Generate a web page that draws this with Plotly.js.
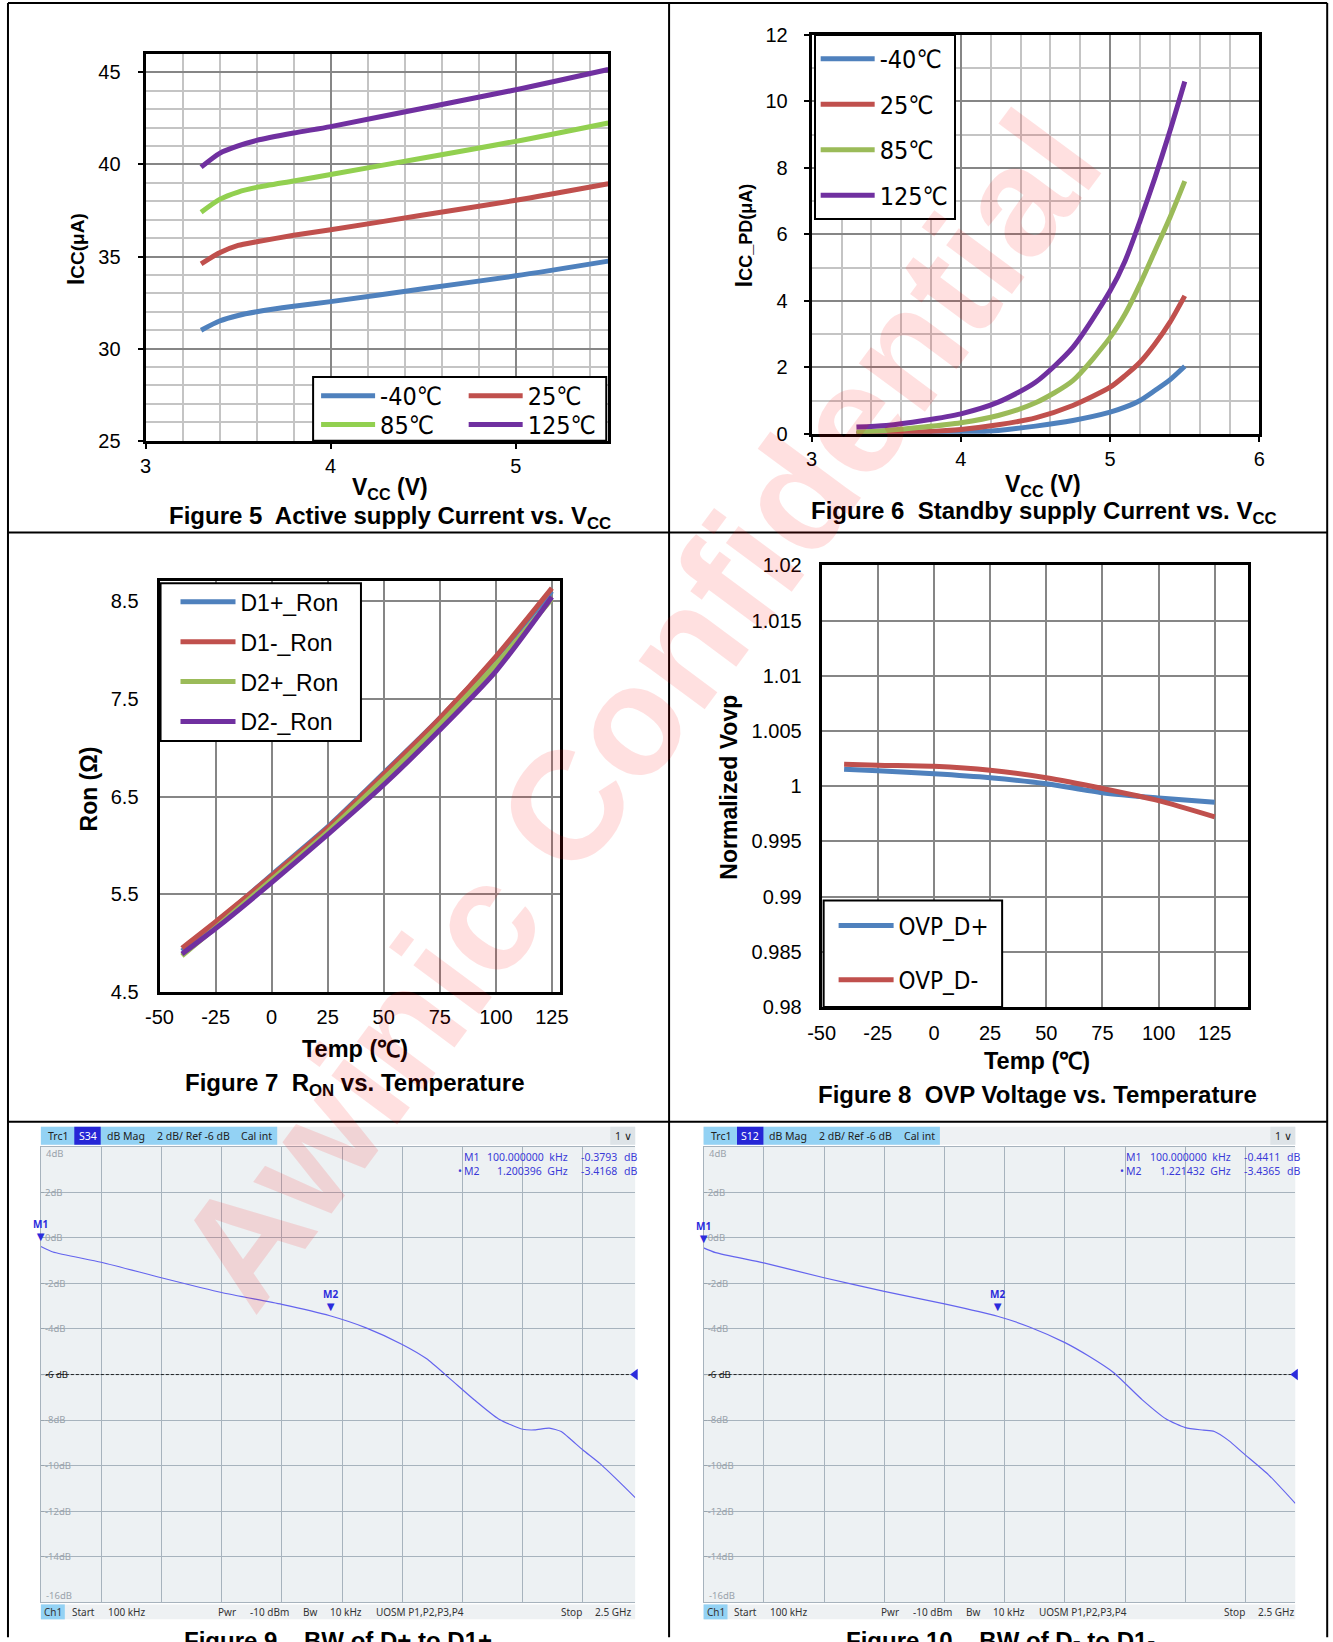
<!DOCTYPE html>
<html><head><meta charset="utf-8">
<script src="https://cdn.plot.ly/plotly-3.0.1.min.js"></script>
<style>html,body{margin:0;padding:0;background:#fff;}#chart{width:1333px;height:1642px;}</style>
</head><body><div id="chart"></div>
<script>
// ---------- Figure 5: Active supply current vs Vcc ----------
const fig5Vcc = [3.3, 3.4, 3.5, 3.6, 3.8, 4.0, 4.5, 5.0, 5.5];
const fig5IccM40 = [31.0, 31.5, 31.8, 32.0, 32.3, 32.55, 33.25, 33.95, 34.75];
const fig5Icc25 = [34.6, 35.2, 35.6, 35.8, 36.15, 36.45, 37.25, 38.05, 38.95];
const fig5Icc85 = [37.4, 38.1, 38.5, 38.75, 39.1, 39.45, 40.35, 41.25, 42.25];
const fig5Icc125 = [39.85, 40.6, 41.0, 41.3, 41.7, 42.05, 43.05, 44.05, 45.15];
const tempNames = ['-40℃', '25℃', '85℃', '125℃'];

// ---------- Figure 6: Standby supply current vs Vcc ----------
const fig6Vcc = [3.3, 3.5, 3.75, 4.0, 4.25, 4.5, 4.75, 5.0, 5.1, 5.2, 5.3, 5.4, 5.5];
const fig6IccM40 = [0, 0, 0.01, 0.03, 0.1, 0.23, 0.4, 0.65, 0.8, 1.0, 1.3, 1.62, 2.03];
const fig6Icc25 = [0, 0.02, 0.06, 0.13, 0.27, 0.48, 0.85, 1.4, 1.75, 2.15, 2.7, 3.35, 4.15];
const fig6Icc85 = [0.05, 0.1, 0.2, 0.33, 0.55, 0.93, 1.6, 2.9, 3.6, 4.5, 5.5, 6.5, 7.6];
const fig6Icc125 = [0.2, 0.25, 0.4, 0.6, 0.95, 1.55, 2.6, 4.3, 5.2, 6.4, 7.7, 9.1, 10.6];

// ---------- Figure 7: Ron vs temperature ----------
const fig7Temp = [-40, -25, 0, 25, 50, 75, 100, 125];
const fig7D1p = [4.92, 5.20, 5.70, 6.19, 6.74, 7.30, 7.92, 8.60];
const fig7D1m = [4.95, 5.22, 5.69, 6.18, 6.73, 7.30, 7.93, 8.63];
const fig7D2p = [4.87, 5.16, 5.65, 6.14, 6.68, 7.24, 7.85, 8.52];
const fig7D2m = [4.89, 5.15, 5.62, 6.11, 6.62, 7.18, 7.78, 8.54];
const fig7Names = ['D1+_Ron', 'D1-_Ron', 'D2+_Ron', 'D2-_Ron'];
const fig7TickVals = [4.5, 5.5, 6.5, 7.5, 8.5];
const fig7TickText = ['4.5', '5.5', '6.5', '7.5', '8.5'];

// ---------- Figure 8: OVP voltage vs temperature ----------
const fig8Temp = [-40, -25, 0, 25, 50, 75, 100, 125];
const fig8Dp = [1.00155, 1.0014, 1.00113, 1.00077, 1.00023, 0.99942, 0.99894, 0.99855];
const fig8Dm = [1.0020, 1.0019, 1.0018, 1.00145, 1.00077, 0.9998, 0.9987, 0.99723];
const fig8Names = ['OVP_D+', 'OVP_D-'];
const fig8TickVals = [0.98, 0.985, 0.99, 0.995, 1.0, 1.005, 1.01, 1.015, 1.02];
const fig8TickText = ['0.98', '0.985', '0.99', '0.995', '1', '1.005', '1.01', '1.015', '1.02'];

const tempTickVals = [-50, -25, 0, 25, 50, 75, 100, 125];
const tempTickText = ['-50', '-25', '0', '25', '50', '75', '100', '125'];

// ---------- Figures 9/10: bandwidth (VNA screenshots) ----------
const fig9Freq = [0.0001, 0.05, 0.25, 0.5, 0.75, 1.0, 1.2, 1.35, 1.5, 1.6, 1.7, 1.8, 1.9, 2.0, 2.05, 2.11, 2.16, 2.2, 2.25, 2.32, 2.4, 2.467];
const fig9Db = [-0.38, -0.62, -1.07, -1.75, -2.4, -2.92, -3.42, -3.95, -4.68, -5.3, -6.2, -7.12, -7.95, -8.4, -8.43, -8.35, -8.5, -8.85, -9.31, -9.9, -10.7, -11.4];
const fig10Freq = [0.0001, 0.05, 0.25, 0.5, 0.75, 1.0, 1.22, 1.35, 1.5, 1.6, 1.7, 1.82, 1.92, 2.0, 2.075, 2.12, 2.18, 2.24, 2.345, 2.456];
const fig10Db = [-0.44, -0.65, -1.1, -1.75, -2.35, -2.9, -3.44, -3.9, -4.6, -5.2, -5.9, -7.1, -7.95, -8.33, -8.44, -8.5, -8.9, -9.45, -10.4, -11.65];
const fig9Markers = {name: ['M1', 'M2'], freq: [0.0001, 1.200396], freqText: ['100.000000  kHz', '1.200396  GHz'], val: [-0.3793, -3.4168]};
const fig10Markers = {name: ['M1', 'M2'], freq: [0.0001, 1.221432], freqText: ['100.000000  kHz', '1.221432  GHz'], val: [-0.4411, -3.4365]};
const vnaRefLevel = -6;
const vnaTickVals = [-14, -12, -10, -8, -6, -4, -2, 0, 2];
const vnaTickText = ['-14dB', '-12dB', '-10dB', '-8dB', '<span style="color:#222">-6 dB</span>', '-4dB', '-2dB', '0dB', '2dB'];
const fig9Param = 'S34';
const fig10Param = 'S12';
const vnaStatus = [['Start', 29], ['100 kHz', 65], ['Pwr', 176], ['-10 dBm', 208], ['Bw', 261], ['10 kHz', 288], ['UOSM P1,P2,P3,P4', 334], ['Stop', 520], ['2.5 GHz', 554]];

// ---------- layout helpers ----------
const W = 1333, H = 1642, K = 0.99714;
const X = v => v * K / W, Y = v => 1 - v * K / H;
const dx = (a, b) => [X(a), X(b)];
const dy = (a, b) => [Y(b), Y(a)];
const arial = 'Liberation Sans, Arial, sans-serif';
const narrow = 'Liberation Sans Narrow, DejaVu Sans Condensed, Roboto, sans-serif';
const ui = 'Noto Sans, Open Sans, sans-serif';
const C = {blue: '#4F81BD', red: '#C0504D', lime: '#92D050', green: '#9BBB59', purple: '#7030A0'};
const tickFont = {family: arial, size: 20, color: '#000'};

let gid = 0;
function line(x, y, xa, ya, color, name, legend) {
  gid++;
  return {x: x, y: y, xaxis: xa, yaxis: ya, type: 'scatter', mode: 'lines', name: name, legendgroup: 'g' + gid,
    line: {color: color, width: 5, shape: 'spline', smoothing: 0.7}, legend: legend};
}

const traces = [
  line(fig5Vcc, fig5IccM40, 'x', 'y', C.blue, tempNames[0], 'legend'),
  line(fig5Vcc, fig5Icc25, 'x', 'y', C.red, tempNames[1], 'legend2'),
  line(fig5Vcc, fig5Icc85, 'x', 'y', C.lime, tempNames[2], 'legend3'),
  line(fig5Vcc, fig5Icc125, 'x', 'y', C.purple, tempNames[3], 'legend4'),
  line(fig6Vcc, fig6IccM40, 'x2', 'y2', C.blue, tempNames[0], 'legend5'),
  line(fig6Vcc, fig6Icc25, 'x2', 'y2', C.red, tempNames[1], 'legend5'),
  line(fig6Vcc, fig6Icc85, 'x2', 'y2', C.green, tempNames[2], 'legend5'),
  line(fig6Vcc, fig6Icc125, 'x2', 'y2', C.purple, tempNames[3], 'legend5'),
  line(fig7Temp, fig7D1p, 'x3', 'y3', C.blue, fig7Names[0], 'legend6'),
  line(fig7Temp, fig7D1m, 'x3', 'y3', C.red, fig7Names[1], 'legend6'),
  line(fig7Temp, fig7D2p, 'x3', 'y3', C.green, fig7Names[2], 'legend6'),
  line(fig7Temp, fig7D2m, 'x3', 'y3', C.purple, fig7Names[3], 'legend6'),
  line(fig8Temp, fig8Dp, 'x4', 'y4', C.blue, fig8Names[0], 'legend7'),
  line(fig8Temp, fig8Dm, 'x4', 'y4', C.red, fig8Names[1], 'legend7')
];

function vnaTraces(freq, db, xa, ya, xEnd) {
  return [
    {x: [freq[0], xEnd], y: [vnaRefLevel, vnaRefLevel], xaxis: xa, yaxis: ya, mode: 'lines', showlegend: false,
      line: {color: '#222', width: 1, dash: '3px,2px'}},
    {x: freq, y: db, xaxis: xa, yaxis: ya, mode: 'lines', showlegend: false,
      line: {color: '#6464ee', width: 1.2, shape: 'spline', smoothing: 0.6}},
    {x: [xEnd], y: [vnaRefLevel], xaxis: xa, yaxis: ya, mode: 'markers', showlegend: false, cliponaxis: false,
      marker: {symbol: 'triangle-left', size: 10, color: '#2b2bdc'}}
  ];
}
const fig9End = 2.467, fig10End = 2.456;
traces.push(...vnaTraces(fig9Freq, fig9Db, 'x5', 'y5', fig9End));
traces.push(...vnaTraces(fig10Freq, fig10Db, 'x6', 'y6', fig10End));

function ax(domain, range, extra) {
  return Object.assign({domain: domain, range: range, showline: true, linecolor: '#000', linewidth: 3, mirror: true,
    zeroline: false, showgrid: true, gridcolor: '#868686', gridwidth: 2, tickfont: tickFont, fixedrange: true}, extra);
}
const minorX = {dtick: 0.2, showgrid: true, gridcolor: '#c4c4c4', gridwidth: 2};
const minorY = {dtick: 1, showgrid: true, gridcolor: '#c4c4c4', gridwidth: 2};
const tk = {ticks: 'outside', ticklen: 5, tickcolor: '#000', tickwidth: 2};

function vnaX(domain, end, anchor) {
  return {domain: domain, range: [0.0001, end], anchor: anchor, tick0: 0.0001, dtick: 0.25, showticklabels: false,
    showgrid: true, gridcolor: '#a7b3bd', gridwidth: 1, zeroline: false, showline: true, mirror: true, linecolor: '#a7b3bd', linewidth: 1, fixedrange: true};
}
function vnaY(anchor) {
  return {domain: dy(1150, 1607), range: [-16, 4], anchor: anchor, tickvals: vnaTickVals, ticktext: vnaTickText,
    ticklabelposition: 'inside', ticks: 'inside', ticklen: 3, tickcolor: '#9aa5ae', tickfont: {family: ui, size: 9.5, color: '#9aa3ab'},
    showgrid: true, gridcolor: '#a7b3bd', gridwidth: 1, zeroline: false, showline: true, linecolor: '#a7b3bd', linewidth: 1, fixedrange: true};
}
function leg(x, y, font, size, iw, extra) {
  return Object.assign({x: X(x), y: Y(y), xanchor: 'left', yanchor: 'top', bgcolor: 'rgba(0,0,0,0)', borderwidth: 0,
    font: {family: font, size: size, color: '#000'}, itemwidth: iw, traceorder: 'grouped'}, extra || {});
}

const layout = {
  width: W, height: H, margin: {l: 0, r: 0, t: 0, b: 0}, paper_bgcolor: '#fff', plot_bgcolor: 'rgba(0,0,0,0)',
  showlegend: true, hovermode: false,
  xaxis: ax(dx(146, 610), [3, 5.5], Object.assign({anchor: 'y', tick0: 3, dtick: 1, ticklabelstandoff: 0, minor: minorX}, tk)),
  yaxis: ax(dy(54, 442), [25, 46], Object.assign({anchor: 'x', tick0: 25, dtick: 5, ticklabelstandoff: 13, minor: minorY}, tk)),
  xaxis2: ax(dx(814, 1263), [3, 6], Object.assign({anchor: 'y2', tick0: 3, dtick: 1, ticklabelstandoff: 0, minor: minorX}, tk)),
  yaxis2: ax(dy(35, 435), [0, 12], Object.assign({anchor: 'x2', tick0: 0, dtick: 2, ticklabelstandoff: 12, minor: minorY}, tk)),
  xaxis3: ax(dx(160, 562), [-50, 128.8], {anchor: 'y3', tickvals: tempTickVals, ticktext: tempTickText, ticklabelstandoff: 5}),
  yaxis3: ax(dy(583, 995), [4.5, 8.7], {anchor: 'x3', tickvals: fig7TickVals, ticktext: fig7TickText, ticklabelstandoff: 14}),
  xaxis4: ax(dx(824, 1252), [-50, 140], {anchor: 'y4', tickvals: tempTickVals, ticktext: tempTickText, ticklabelstandoff: 6}),
  yaxis4: ax(dy(567, 1010), [0.98, 1.02], {anchor: 'x4', tickvals: fig8TickVals, ticktext: fig8TickText, ticklabelstandoff: 13}),
  xaxis5: vnaX(dx(41, 637), fig9End, 'y5'),
  yaxis5: vnaY('x5'),
  xaxis6: vnaX(dx(705.6, 1299), fig10End, 'y6'),
  yaxis6: vnaY('x6'),
  legend: leg(317, 374, narrow, 25, 54),
  legend2: leg(465, 374, narrow, 25, 54),
  legend3: leg(317, 403, narrow, 25, 54),
  legend4: leg(465, 403, narrow, 25, 54),
  legend5: leg(816, 34, narrow, 25, 54, {bgcolor: '#fff', bordercolor: '#000', borderwidth: 2, tracegroupgap: 10}),
  legend6: leg(176, 582, arial, 23, 55, {tracegroupgap: 7}),
  legend7: leg(836, 906, narrow, 24, 55, {tracegroupgap: 20}),
  shapes: [],
  annotations: []
};

const S = layout.shapes, A = layout.annotations;
// table grid
[[8, 3, 1331, 3], [8, 3, 8, H], [1331, 3, 1331, H], [671, 3, 671, H], [8, 534, 1331, 534], [8, 1125, 1331, 1125]].forEach(l => {
  S.push({type: 'line', xref: 'paper', yref: 'paper', x0: X(l[0]), y0: Y(l[1]), x1: X(l[2]), y1: Y(l[3]), line: {color: '#000', width: 2}});
});
// legend frames (Fig 5, Fig 7, Fig 8)
[[314, 378, 608, 442], [161, 585, 362, 743], [826, 903, 1005, 1010]].forEach(b => {
  S.push({type: 'rect', xref: 'paper', yref: 'paper', x0: X(b[0]), x1: X(b[2]), y0: Y(b[3]), y1: Y(b[1]), fillcolor: '#fff', line: {color: '#000', width: 2}, layer: 'above'});
});

function txt(text, x, y, o) {
  A.push(Object.assign({text: text, x: X(x), y: Y(y), xref: 'paper', yref: 'paper', showarrow: false, xanchor: 'center', yanchor: 'middle'}, o || {}));
}
const bold = (s) => ({family: arial, size: s, color: '#000', weight: 'bold'});
// axis titles
txt('V<sub>CC</sub> (V)', 391, 490, {font: bold(23)});
txt('V<sub>CC</sub> (V)', 1046, 487, {font: bold(23)});
txt('Temp (℃)', 356, 1052, {font: bold(23.5)});
txt('Temp (℃)', 1040, 1064, {font: bold(23.5)});
txt('I<span style="font-size:19px">CC(μA)</span>', 77, 250, {font: bold(23), textangle: -90});
txt('I<span style="font-size:18px">CC_PD(μA)</span>', 746, 236, {font: bold(23), textangle: -90});
txt('Ron (Ω)', 89, 791, {font: bold(23), textangle: -90});
txt('Normalized Vovp', 731, 789, {font: bold(23), textangle: -90});
// captions
txt('Figure 5\u00a0 Active supply Current vs. V<sub>CC</sub>', 391, 519, {font: bold(24)});
txt('Figure 6\u00a0 Standby supply Current vs. V<sub>CC</sub>', 1047, 514, {font: bold(24)});
txt('Figure 7\u00a0 R<sub>ON</sub> vs. Temperature', 356, 1088, {font: bold(24)});
txt('Figure 8\u00a0 OVP Voltage vs. Temperature', 1040, 1098, {font: bold(24)});
txt('Figure 9\u00a0\u00a0\u00a0 BW of D+ to D1+', 339, 1630, {font: bold(24), yanchor: 'top'});
txt('Figure 10\u00a0\u00a0\u00a0 BW of D- to D1-', 1003, 1630, {font: bold(24), yanchor: 'top'});

// VNA decorations
function vna(L, R, xa, ya, param, mk) {
  const rect = (x0, x1, y0, y1, c) => S.push({type: 'rect', xref: 'paper', yref: 'paper', x0: X(x0), x1: X(x1), y0: Y(y1), y1: Y(y0), fillcolor: c, line: {width: 0}});
  S.push({type: 'rect', xref: xa + ' domain', yref: ya + ' domain', x0: 0, x1: 1, y0: 0, y1: 1, fillcolor: '#edf1f3', line: {width: 0}, layer: 'below'});
  rect(L, R, 1130, 1148, '#eef1f3');
  rect(L, L + 237, 1130, 1148, '#93d2f4');
  rect(L + 33.5, L + 60, 1130, 1148, '#2626d6');
  rect(R - 25, R, 1130, 1148, '#dde3e7');
  rect(L, R, 1609, 1624, '#eef1f3');
  rect(L, L + 24, 1609, 1624, '#93d2f4');
  const f = (c, s) => ({family: ui, size: s || 10.5, color: c || '#222'});
  txt('Trc1', L + 5, 1139, {xanchor: 'left', font: f()});
  txt(param, L + 47, 1139, {font: f('#fff')});
  txt('dB Mag', L + 64, 1139, {xanchor: 'left', font: f()});
  txt('2 dB/ Ref -6 dB', L + 114, 1139, {xanchor: 'left', font: f()});
  txt('Cal int', L + 199, 1139, {xanchor: 'left', font: f()});
  txt('1 ∨', R - 12, 1139, {font: f()});
  txt('4dB', L + 3, 1157, {xanchor: 'left', font: f('#9aa3ab', 9.5)});
  txt('-16dB', L + 3, 1600, {xanchor: 'left', font: f('#9aa3ab', 9.5)});
  txt('Ch1', L + 12, 1617, {font: f('#333', 10)});
  vnaStatus.forEach(s => txt(s[0], L + s[1], 1617, {xanchor: 'left', font: f('#333', 10)}));
  for (let i = 0; i < 2; i++) {
    const yy = 1160 + i * 14, c = '#3a3ad8';
    if (i === 1) txt('•', L + 416, yy, {xanchor: 'left', font: f(c)});
    txt(mk.name[i], L + 422, yy, {xanchor: 'left', font: f(c)});
    txt(mk.freqText[i], L + 531, yy, {xanchor: 'right', font: f(c)});
    txt(mk.val[i].toFixed(4), L + 540, yy, {xanchor: 'left', font: f(c)});
    txt('dB', L + 583, yy, {xanchor: 'left', font: f(c)});
    A.push({text: '<b>' + mk.name[i] + '</b><br><span style="font-size:13px">▼</span>', x: mk.freq[i], y: mk.val[i], xref: xa, yref: ya,
      showarrow: false, yanchor: 'bottom', xanchor: 'center', font: {family: ui, size: 10, color: '#2b2bdc'}, borderpad: 0});
  }
}
vna(41, 637, 'x5', 'y5', fig9Param, fig9Markers);
vna(705.6, 1299, 'x6', 'y6', fig10Param, fig10Markers);

// watermark
txt('Awinic Confidential', 640, 712, {textangle: -53.5, font: {family: arial, size: 155, color: 'rgba(255,0,0,0.12)', weight: 'bold'}});

Plotly.newPlot('chart', traces, layout, {displayModeBar: false, staticPlot: true});
</script></body></html>
